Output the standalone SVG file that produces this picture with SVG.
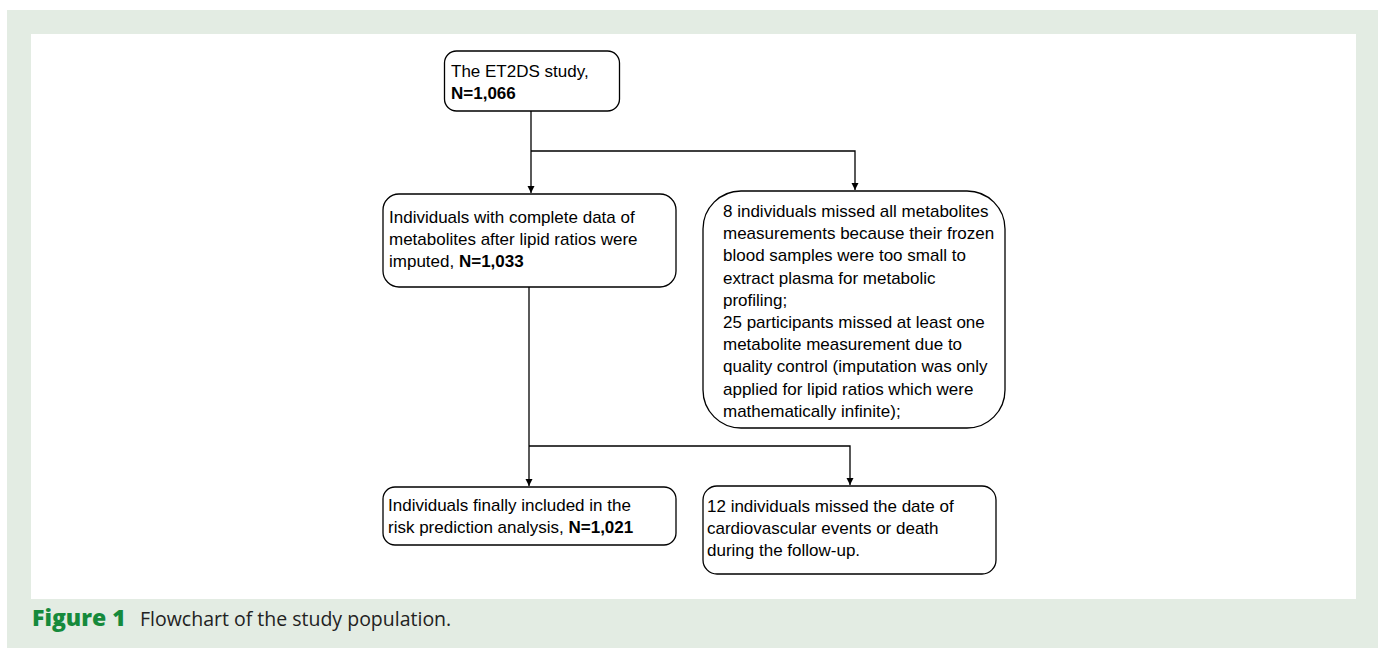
<svg xmlns="http://www.w3.org/2000/svg" width="1378" height="648" viewBox="0 0 1378 648">
<defs>
<marker id="arr" markerWidth="8" markerHeight="8" refX="7" refY="4" orient="auto" markerUnits="userSpaceOnUse">
<path d="M0,0.5 L7,4 L0,7.5 Z" fill="#000"/>
</marker>
<style>
.box{fill:#fff;stroke:#000;stroke-width:1.3}
.t{font-family:"Liberation Sans",Arial,sans-serif;font-size:17px;fill:#000}
.b{font-weight:bold}
.ln{fill:none;stroke:#000;stroke-width:1.3}
.cap{font-family:"Open Sans","Noto Sans",sans-serif;font-size:19.5px;fill:#222}
.fig{font-family:"Open Sans","Noto Sans",sans-serif;font-size:23px;font-weight:800;fill:#168a3c}
</style>
</defs>
<rect x="7" y="10" width="1371" height="638" fill="#e3ece3"/>
<rect x="31" y="34" width="1325" height="565" fill="#fff"/>

<g id="connectors">
<path class="ln" d="M531,111 V193" marker-end="url(#arr)"/>
<path class="ln" d="M531,151 H855 V190" marker-end="url(#arr)"/>
<path class="ln" d="M529,287 V486" marker-end="url(#arr)"/>
<path class="ln" d="M529,446 H850 V485" marker-end="url(#arr)"/>
</g>

<g id="n1">
<rect class="box" x="444.5" y="51" width="175" height="60" rx="12"/>
<text class="t" x="451" y="77">The ET2DS study,</text>
<text class="t b" x="451" y="99">N=1,066</text>
</g>

<g id="n2">
<rect class="box" x="383" y="194" width="293" height="93" rx="16"/>
<text class="t" x="389" y="222.5">Individuals with complete data of</text>
<text class="t" x="389" y="244.5">metabolites after lipid ratios were</text>
<text class="t" x="389" y="266.5">imputed, <tspan class="b">N=1,033</tspan></text>
</g>

<g id="n3">
<rect class="box" x="703" y="191" width="302" height="237" rx="38"/>
<text class="t" x="723" y="217">8 individuals missed all metabolites</text>
<text class="t" x="723" y="239.2">measurements because their frozen</text>
<text class="t" x="723" y="261.4">blood samples were too small to</text>
<text class="t" x="723" y="283.6">extract plasma for metabolic</text>
<text class="t" x="723" y="305.8">profiling;</text>
<text class="t" x="723" y="328">25 participants missed at least one</text>
<text class="t" x="723" y="350.2">metabolite measurement due to</text>
<text class="t" x="723" y="372.4">quality control (imputation was only</text>
<text class="t" x="723" y="394.6">applied for lipid ratios which were</text>
<text class="t" x="723" y="416.8">mathematically infinite);</text>
</g>

<g id="n4">
<rect class="box" x="383" y="487" width="293" height="58" rx="12"/>
<text class="t" x="388" y="510.5">Individuals finally included in the</text>
<text class="t" x="388" y="532.5">risk prediction analysis, <tspan class="b">N=1,021</tspan></text>
</g>

<g id="n5">
<rect class="box" x="703" y="486" width="293" height="88" rx="14"/>
<text class="t" x="707" y="512">12 individuals missed the date of</text>
<text class="t" x="707" y="534">cardiovascular events or death</text>
<text class="t" x="707" y="556">during the follow-up.</text>
</g>

<g id="caption">
<text class="fig" x="32" y="626">Figure 1</text>
<text class="cap" x="140" y="626">Flowchart of the study population.</text>
</g>
</svg>
